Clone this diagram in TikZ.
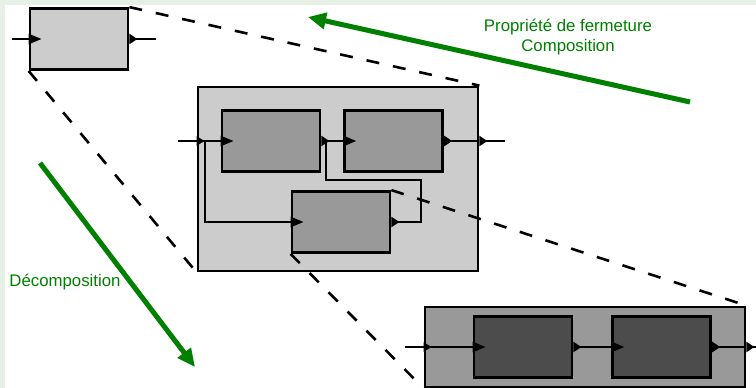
\documentclass[tikz,border=0pt]{standalone}
\usepackage{fontspec}
\setmainfont{Liberation Sans}
\usepackage{xcolor}
\usepackage{tikz}
\usetikzlibrary{arrows.meta,positioning}

\definecolor{bgstrip}{RGB}{230,240,230}
\definecolor{ptgreen}{RGB}{0,128,0}

\begin{document}
\begin{tikzpicture}[
  x=1pt, y=-1pt,
  node distance=22pt,
  blk/.style={rectangle, draw, line width=2.8pt, inner sep=0pt},
  inner/.style={blk, minimum width=98pt, minimum height=61pt},
  light/.style={fill=black!20},
  mid/.style={fill=black!40},
  dark/.style={fill=black!70},
  sig/.style={line width=2.3pt},
  sigin/.style={sig, -{Triangle[length=13pt,width=10pt]}, shorten >=-13pt},
  sigout/.style={sig, {Triangle[reversed,length=8pt,width=10pt]}-},
  sigio/.style={sig, {Triangle[reversed,length=8pt,width=10pt]}-{Triangle[length=13pt,width=10pt]}, shorten >=-13pt},
  outerin/.style={sig, -{Triangle[length=8pt,width=9pt]}, shorten >=-8pt},
  zoomline/.style={line width=2.6pt, dash pattern=on 13pt off 14pt},
  bigarrow/.style={line width=5pt, ptgreen, -{Triangle[length=18pt,width=16pt]}},
  lbl/.style={text=ptgreen, font=\fontsize{16.8}{20}\selectfont, align=center, inner sep=0pt}
]

\fill[white] (0,0) rectangle (756,388);
\fill[bgstrip] (0,0) rectangle (756,5);
\fill[bgstrip] (0,0) rectangle (5,388);
\useasboundingbox (0,0) rectangle (756,388);

% single block
\node[inner, light] (S) at (79,39) {};
\coordinate (s_in) at (12,39);
\coordinate (s_out) at (156,39);
\draw[sigin] (s_in) -- (S.west);
\draw[sigout] (S.east) -- (s_out);

% composed system
\node[blk, light, minimum width=280pt, minimum height=184pt] (M) at (338,179) {};
\node[inner, mid] (A) at (271,141) {};
\node[inner, mid, right=of A] (B) {};
\node[inner, mid] (C) at (341,222) {};

\coordinate (m_in) at (178,141);
\coordinate (m_out) at (505,141);
\coordinate (m_w) at (A.west -| M.west);
\coordinate (m_e) at (B.east -| M.east);
\coordinate (j1) at (205,141);
\coordinate (j2) at (326,141);
\coordinate (fb) at (421,180);

\draw[outerin] (m_in) -- (m_w);
\draw[sigin] (m_w) -- (A.west);
\draw[sigio] (A.east) -- (B.west);
\draw[sigout] (B.east) -- (m_e);
\draw[sigout] (m_e) -- (m_out);
\draw[sigin] (j1) |- (C.west);
\draw[sigout] (C.east) -| (fb) -| (j2);

% detailed system
\node[blk, mid, minimum width=320pt, minimum height=80pt] (N) at (585,347) {};
\node[inner, dark] (D) at (523,347) {};
\node[inner, dark, right=38pt of D] (E) {};

\coordinate (n_in) at (405,347);
\coordinate (n_out) at (756,347);

\draw[outerin] (n_in) -- (N.west);
\draw[sigin] (N.west) -- (D.west);
\draw[sigio] (D.east) -- (E.west);
\draw[sigout] (E.east) -- (N.east);
\draw[sigout] (N.east) -- (n_out);

% zoom lines
\draw[zoomline] (S.north east) -- (M.north east);
\draw[zoomline] (S.south west) -- (M.south west);
\draw[zoomline] (C.north east) -- (N.north east);
\draw[zoomline] (C.south west) -- (N.south west);

% composition / decomposition
\coordinate (comp_from) at (690,102);
\coordinate (comp_to) at (308,17);
\draw[bigarrow] (comp_from) -- (comp_to);
\node[lbl] (comp_lbl) at (568,37) {Propriété de fermeture\\Composition};

\coordinate (dec_from) at (40,163);
\coordinate (dec_to) at (195,367);
\draw[bigarrow] (dec_from) -- (dec_to);
\node[lbl] (dec_lbl) at (65,282) {Décomposition};

\end{tikzpicture}
\end{document}
